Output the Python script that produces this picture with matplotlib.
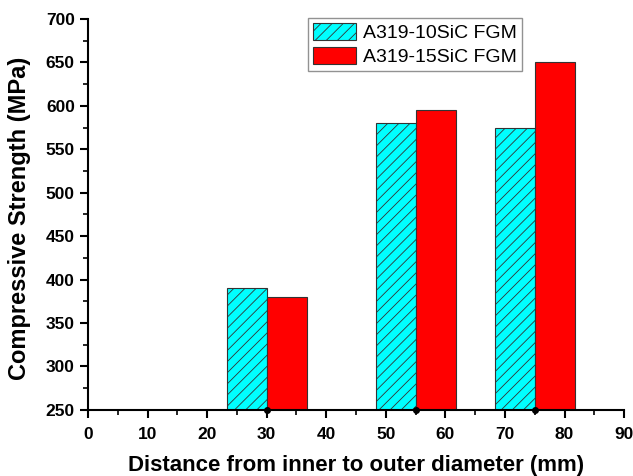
import matplotlib
matplotlib.use("Agg")
import matplotlib.pyplot as plt
from matplotlib.ticker import MultipleLocator

positions = [30, 55, 75]
series_10 = [390, 580, 575]
series_15 = [380, 595, 650]
labels = ["A319-10SiC FGM", "A319-15SiC FGM"]

plt.rcParams['font.family'] = ['Liberation Sans', 'DejaVu Sans']
plt.rcParams['hatch.linewidth'] = 0.6
plt.rcParams['hatch.color'] = '#333333'

fig = plt.figure(figsize=(6.33, 4.76), dpi=100)
ax = fig.add_axes([0.139, 0.139, 0.847, 0.821])

w = 6.7
ax.bar([p - w/2 for p in positions], [v - 250 for v in series_10], width=w, bottom=250,
       color='#00FFFF', edgecolor='#333333', linewidth=0.8, hatch='///', label=labels[0])
ax.bar([p + w/2 for p in positions], [v - 250 for v in series_15], width=w, bottom=250,
       color='#FF0000', edgecolor='#333333', linewidth=0.8, label=labels[1])
ax.plot(positions, [250]*3, 'o', color='black', markersize=4, clip_on=False, zorder=5)

ax.set_xlim(0, 90)
ax.set_ylim(250, 700)
ax.xaxis.set_major_locator(MultipleLocator(10))
ax.xaxis.set_minor_locator(MultipleLocator(5))
ax.yaxis.set_major_locator(MultipleLocator(50))
ax.yaxis.set_minor_locator(MultipleLocator(25))
for s in ['top', 'right']:
    ax.spines[s].set_visible(False)
for s in ['left', 'bottom']:
    ax.spines[s].set_linewidth(1.5)
ax.tick_params(which='major', direction='out', length=6, width=1.5, labelsize=12.5)
ax.tick_params(which='major', axis='x', pad=6)
ax.tick_params(which='minor', direction='out', length=3.5, width=1.2)
for t in ax.get_xticklabels() + ax.get_yticklabels():
    t.set_fontweight('bold')

ax.set_xlabel('Distance from inner to outer diameter (mm)', fontsize=16, fontweight='bold', labelpad=10)
ax.set_ylabel('Compressive Strength (MPa)', fontsize=17, fontweight='bold')
ax.yaxis.set_label_coords(-0.106, 0.49)

leg = ax.legend(loc='upper left', bbox_to_anchor=(308/633, 1 - 18/476),
                bbox_transform=fig.transFigure, fontsize=14, frameon=True,
                fancybox=False, edgecolor='#777777', handlelength=2.2, handleheight=1.0,
                borderpad=0.25, labelspacing=0.25, handletextpad=0.4, borderaxespad=0)
leg.get_frame().set_linewidth(1.0)

fig.savefig('out.png', dpi=100)
